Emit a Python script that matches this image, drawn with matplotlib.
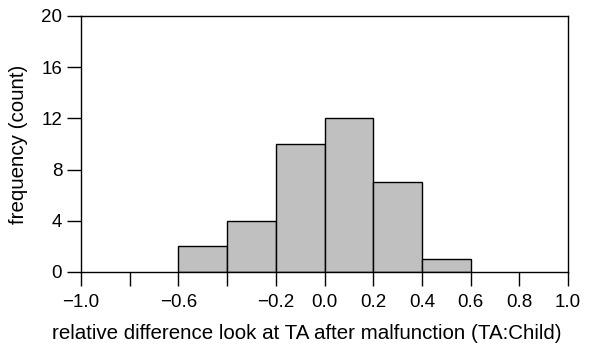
import numpy as np
import matplotlib
matplotlib.use("Agg")
import matplotlib.pyplot as plt

plt.rcParams['font.family'] = ['Liberation Sans', 'DejaVu Sans']

# histogram data
bin_edges = [-0.6, -0.4, -0.2, 0.0, 0.2, 0.4, 0.6]
counts = [2, 4, 10, 12, 7, 1]

x_ticks = [-1.0, -0.8, -0.6, -0.4, -0.2, 0.0, 0.2, 0.4, 0.6, 0.8, 1.0]
x_labels = ["\u22121.0", "", "\u22120.6", "", "\u22120.2", "0.0", "0.2", "0.4", "0.6", "0.8", "1.0"]
y_ticks = [0, 4, 8, 12, 16, 20]

fig = plt.figure(figsize=(5.99, 3.43), dpi=100)
ax = fig.add_axes([81 / 599, 1 - 272 / 343, (568 - 81) / 599, (272 - 16) / 343])

lefts = np.array(bin_edges[:-1])
widths = np.diff(bin_edges)
ax.bar(lefts, counts, width=widths, align='edge', color='#c0c0c0',
       edgecolor='black', linewidth=1.0)

ax.set_xlim(-1.0, 1.0)
ax.set_ylim(0, 20)
ax.set_xticks(x_ticks)
ax.set_xticklabels(x_labels)
ax.set_yticks(y_ticks)
ax.tick_params(direction='out', length=10, width=1, labelsize=13.5)
ax.tick_params(axis='x', pad=5.5)
ax.tick_params(axis='y', pad=3.5)
for s in ax.spines.values():
    s.set_linewidth(1.0)

ax.set_xlabel("relative difference look at TA after malfunction (TA:Child)", fontsize=14.8)
ax.set_ylabel("frequency (count)", fontsize=14.8)
ax.xaxis.set_label_coords(0.464, -0.204)
ax.yaxis.set_label_coords(-0.109, 0.5)

fig.savefig("out.png", dpi=100)
